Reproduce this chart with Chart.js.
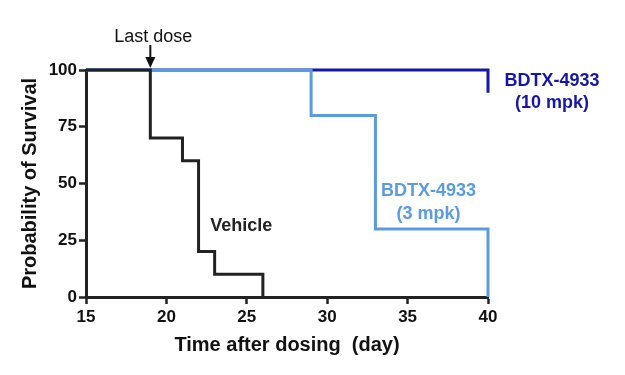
<!DOCTYPE html>
<html>
<head>
<meta charset="utf-8">
<script src="https://cdn.jsdelivr.net/npm/chart.js@4/dist/chart.umd.min.js"></script>
<style>
  html, body { margin: 0; padding: 0; background: #fff; }
  #wrap { width: 625px; height: 375px; }
</style>
</head>
<body>
<div id="wrap"><canvas id="km"></canvas></div>
<script>
"use strict";

// survival curves (Kaplan-Meier steps), day -> % surviving
const vehicleDays = [15, 19, 21, 22, 23, 26];
const vehicleSurv = [100, 70, 60, 20, 10, 0];

const mpk3Days = [15, 29, 33, 40];
const mpk3Surv = [100, 80, 30, 0];

const mpk10Days = [15, 40];
const mpk10Surv = [100, 90];

const xTicks = [15, 20, 25, 30, 35, 40];
const yTicks = [0, 25, 50, 75, 100];

const lastDoseDay = 19;

const BLACK = '#222222';
const LIGHT = '#5b9be0';
const DARK = '#1616a8';
const FONT = '"Liberation Sans", Arial, sans-serif';

const toPoints = (xs, ys) => xs.map((x, i) => ({ x: x, y: ys[i] }));

// text labels + "last dose" arrow
const notes = {
  id: 'notes',
  afterDraw(chart) {
    const ctx = chart.ctx;
    const xs = chart.scales.x;
    const ys = chart.scales.y;
    ctx.save();
    ctx.textAlign = 'center';
    ctx.textBaseline = 'middle';

    // Last dose
    let ax = xs.getPixelForValue(lastDoseDay);
    ctx.fillStyle = '#111';
    ctx.font = '18px ' + FONT;
    ctx.fillText('Last dose', ax + 3, 37);
    ctx.strokeStyle = '#111';
    ctx.lineWidth = 2;
    ctx.beginPath();
    ctx.moveTo(ax, 45);
    ctx.lineTo(ax, 60);
    ctx.stroke();
    ctx.beginPath();
    ctx.moveTo(ax - 5, 57);
    ctx.lineTo(ax + 5, 57);
    ctx.lineTo(ax, 68);
    ctx.closePath();
    ctx.fill();

    ctx.font = 'bold 18px ' + FONT;
    ctx.fillStyle = BLACK;
    ctx.fillText('Vehicle', xs.getPixelForValue(24.65), ys.getPixelForValue(31.3));

    ctx.fillStyle = LIGHT;
    ctx.fillText('BDTX-4933', xs.getPixelForValue(36.3), ys.getPixelForValue(46.7));
    ctx.fillText('(3 mpk)', xs.getPixelForValue(36.3), ys.getPixelForValue(36.7));

    ctx.fillStyle = DARK;
    ctx.fillText('BDTX-4933', 552, ys.getPixelForValue(95));
    ctx.fillText('(10 mpk)', 552, ys.getPixelForValue(85.5));
    ctx.restore();
  }
};

const ctx = document.getElementById('km').getContext('2d');

const kmChart = new Chart(ctx, {
  type: 'line',
  data: {
    datasets: [
      {
        label: 'Vehicle',
        data: toPoints(vehicleDays, vehicleSurv),
        borderColor: BLACK,
        borderWidth: 3,
        stepped: true,
        pointRadius: 0,
        clip: 5
      },
      {
        label: 'BDTX-4933 (3 mpk)',
        data: toPoints(mpk3Days, mpk3Surv),
        borderColor: LIGHT,
        borderWidth: 3,
        stepped: true,
        pointRadius: 0,
        clip: 5
      },
      {
        label: 'BDTX-4933 (10 mpk)',
        data: toPoints(mpk10Days, mpk10Surv),
        borderColor: DARK,
        borderWidth: 3,
        stepped: true,
        pointRadius: 0,
        clip: 5
      }
    ]
  },
  options: {
    responsive: true,
    maintainAspectRatio: false,
    animation: false,
    layout: { padding: { top: 70, right: 137, left: 0, bottom: 0 } },
    plugins: {
      legend: { display: false },
      tooltip: { enabled: false }
    },
    scales: {
      x: {
        type: 'linear',
        min: 15,
        max: 40,
        afterBuildTicks: (s) => { s.ticks = xTicks.map(v => ({ value: v })); },
        afterFit: (s) => { s.height = 78; },
        grid: { drawOnChartArea: false, tickLength: 7, tickWidth: 2.5, tickColor: BLACK },
        border: { color: BLACK, width: 3 },
        ticks: {
          color: '#111',
          padding: 3,
          font: { family: FONT, size: 17, weight: 'bold' }
        },
        title: {
          display: true,
          text: 'Time after dosing  (day)',
          color: '#111',
          padding: { top: 0, bottom: 18 },
          font: { family: FONT, size: 20, weight: 'bold' }
        }
      },
      y: {
        min: 0,
        max: 100,
        afterBuildTicks: (s) => { s.ticks = yTicks.map(v => ({ value: v })); },
        afterFit: (s) => { s.width = 86; },
        grid: { drawOnChartArea: false, tickLength: 7, tickWidth: 2.5, tickColor: BLACK },
        border: { color: BLACK, width: 3 },
        ticks: {
          color: '#111',
          padding: 2,
          font: { family: FONT, size: 17, weight: 'bold' }
        },
        title: {
          display: true,
          text: 'Probability of Survival',
          color: '#111',
          padding: { top: 18, bottom: 0 },
          font: { family: FONT, size: 20, weight: 'bold' }
        }
      }
    }
  },
  plugins: [notes]
});
</script>
</body>
</html>
